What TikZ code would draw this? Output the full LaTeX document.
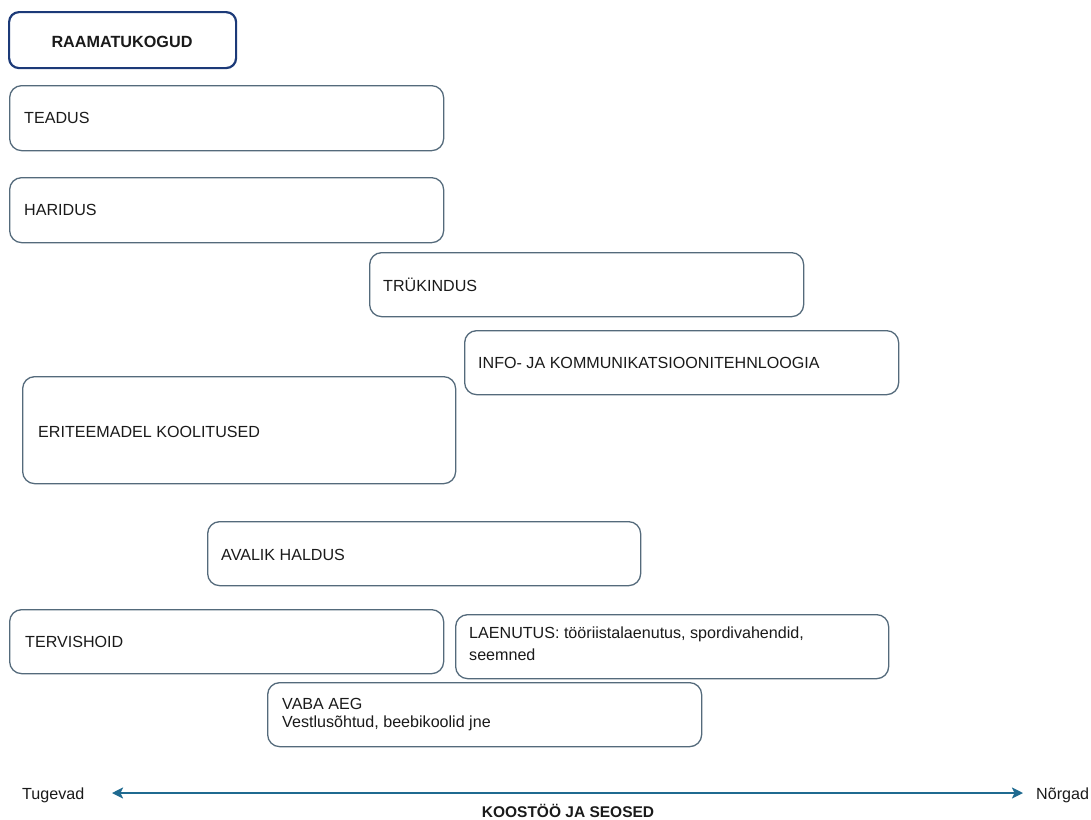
\documentclass[tikz,border=0pt]{standalone}
\usepackage{fontspec}
\setmainfont{Liberation Sans}
\usetikzlibrary{arrows.meta}
\definecolor{boxline}{HTML}{546A7B}
\definecolor{navy}{HTML}{1C3A78}
\definecolor{arrowc}{HTML}{1F6A90}
\definecolor{txt}{HTML}{1A1A1A}
\begin{document}
\begin{tikzpicture}[x=1pt,y=-1pt,
  font=\fontsize{16.1}{19}\selectfont,
  box/.style={draw=boxline, line width=1.3pt, rounded corners=12pt, inner sep=0pt, anchor=north west, fill=white},
  mainbox/.style={draw=navy, line width=2.2pt, rounded corners=10pt, inner sep=0pt, anchor=north west, fill=white},
  lbl/.style={anchor=base west, inner sep=0pt, text=txt},
  axis/.style={draw=arrowc, line width=2.4pt, {Stealth[length=11pt,width=11pt,inset=2.5pt]}-{Stealth[length=11pt,width=11pt,inset=2.5pt]}}]
\useasboundingbox (0,0) rectangle (1091,819);

\node[mainbox, minimum width=227pt, minimum height=56pt] (raamb) at (8,11) {};
\node[anchor=base, inner sep=0pt, text=txt, font=\fontsize{16.2}{19}\selectfont\bfseries] (raam) at (122,47) {RAAMATUKOGUD};

\node[box, minimum width=434pt, minimum height=65pt] (teadusb) at (9,85) {};
\node[lbl] (teadus) at (24,123) {TEADUS};

\node[box, minimum width=434pt, minimum height=65pt] (haridusb) at (9,177) {};
\node[lbl] (haridus) at (24,215) {HARIDUS};

\node[box, minimum width=434pt, minimum height=64pt] (trukb) at (369,252) {};
\node[lbl] (truk) at (383,291) {TRÜKINDUS};

\node[box, minimum width=434pt, minimum height=64pt] (infob) at (464,330) {};
\node[lbl] (info) at (478,368) {INFO- JA KOMMUNIKATSIOONITEHNLOOGIA};

\node[box, minimum width=433pt, minimum height=107pt] (erib) at (22,376) {};
\node[lbl] (eri) at (38,437) {ERITEEMADEL KOOLITUSED};

\node[box, minimum width=433pt, minimum height=64pt] (avalikb) at (207,521) {};
\node[lbl] (avalik) at (221,560) {AVALIK HALDUS};

\node[box, minimum width=434pt, minimum height=64pt] (tervb) at (9,609) {};
\node[lbl] (terv) at (25,647) {TERVISHOID};

\node[box, minimum width=433pt, minimum height=64pt] (laenb) at (455,614) {};
\node[lbl] (laen1) at (469,638) {LAENUTUS: tööriistalaenutus, spordivahendid,};
\node[lbl] (laen2) at (469,660) {seemned};

\node[box, minimum width=434pt, minimum height=64pt] (vabab) at (267,682) {};
\node[lbl] (vaba1) at (282,709) {VABA AEG};
\node[lbl] (vaba2) at (282,727) {Vestlusõhtud, beebikoolid jne};

\coordinate (la) at (112,793);
\coordinate (ra) at (1023,793);
\draw[axis] (la) -- (ra);
\node[lbl] (tug) at (22,799) {Tugevad};
\node[lbl] (nor) at (1036,799) {Nõrgad};
\node[anchor=base, inner sep=0pt, text=txt, font=\fontsize{15.5}{19}\selectfont\bfseries] (koos) at (568,817) {KOOSTÖÖ JA SEOSED};
\end{tikzpicture}
\end{document}
